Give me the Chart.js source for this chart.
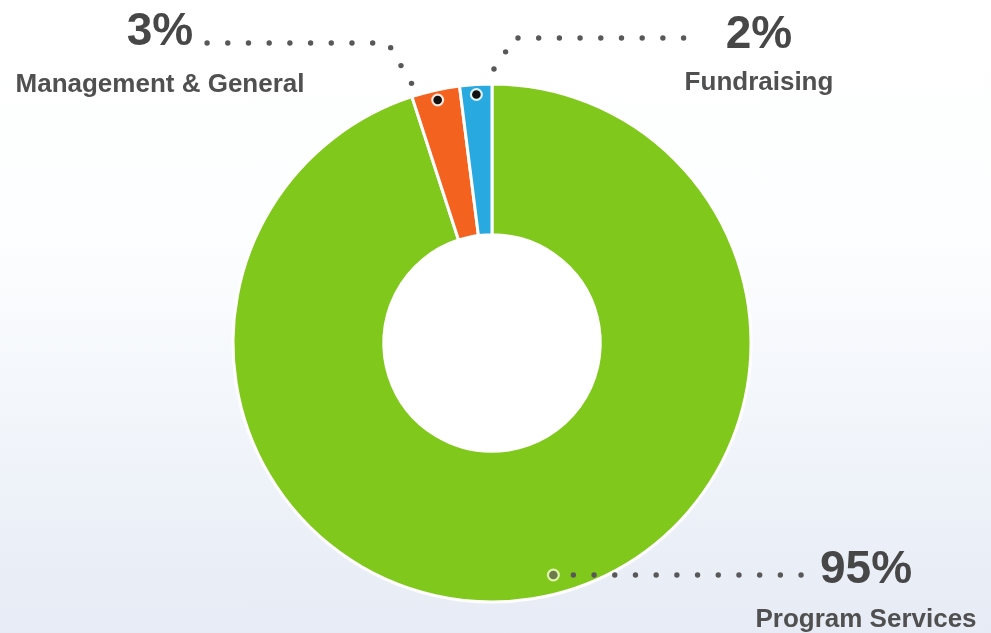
<!DOCTYPE html>
<html>
<head>
<meta charset="utf-8">
<script src="https://cdn.jsdelivr.net/npm/chart.js@4/dist/chart.umd.min.js"></script>
<style>
  html, body { margin: 0; padding: 0; }
  body {
    width: 991px; height: 633px; overflow: hidden;
    background: linear-gradient(to bottom, #ffffff 0px, #fdfeff 230px, #f0f4fa 450px, #e6ebf5 633px);
  }
  #wrap { position: relative; width: 991px; height: 633px; }
</style>
</head>
<body>
<div id="wrap"><canvas id="chart" width="991" height="633"></canvas></div>
<script>
// Expense breakdown, in percent of total spending
const categories = ['Program Services', 'Management & General', 'Fundraising'];
const shares = [95, 3, 2];
const sliceColors = ['#80C91C', '#F4621F', '#28A9DF'];

// Callout placement for each slice, relative to the doughnut centre.
// anchorFrac: where along the slice the marker sits (0..1 of its sweep)
// inset: how far in from the outer rim the marker sits
// path: bend points of the dotted leader, ending beside the text
// text: centre x and baselines of the value and the caption
const callouts = [
  { anchorFrac: 0.483, inset: 19, gap: 20, path: [[310, 232]],
    text: { x: 374, valueY: 240, labelY: 284 }, markerFill: 'rgba(70,80,40,0.75)', ringColor: 'rgba(235,250,190,0.9)' },
  { anchorFrac: 0.5, inset: 10, gap: 31, path: [[-81, -260], [-104, -300], [-285, -300]],
    text: { x: -332, valueY: -298, labelY: -251 }, markerFill: '#111111', ringColor: 'rgba(255,255,255,0.85)' },
  { anchorFrac: 0.5, inset: 10, gap: 31, path: [[13, -290], [21, -305], [208, -305]],
    text: { x: 267, valueY: -295, labelY: -253 }, markerFill: '#111111', ringColor: 'rgba(255,255,255,0.85)' }
];

// white disc behind the doughnut hole
const holePlugin = {
  id: 'hole',
  beforeDatasetsDraw(chart) {
    const arc = chart.getDatasetMeta(0).data[0];
    if (!arc) return;
    const p = arc.getProps(['x', 'y', 'innerRadius'], true);
    const ctx = chart.ctx;
    ctx.save();
    ctx.beginPath();
    ctx.arc(p.x, p.y, p.innerRadius + 1, 0, Math.PI * 2);
    ctx.fillStyle = '#ffffff';
    ctx.fill();
    ctx.restore();
  }
};

const calloutPlugin = {
  id: 'callouts',
  afterDatasetsDraw(chart) {
    const ctx = chart.ctx;
    const meta = chart.getDatasetMeta(0);
    meta.data.forEach((arc, i) => {
      const c = callouts[i];
      const p = arc.getProps(['x', 'y', 'startAngle', 'endAngle', 'outerRadius'], true);
      const ang = p.startAngle + (p.endAngle - p.startAngle) * c.anchorFrac;
      const r = p.outerRadius - c.inset;
      const ax = p.x + Math.cos(ang) * r;
      const ay = p.y + Math.sin(ang) * r;

      // dotted leader from the marker out to the value text
      const pts = [[ax, ay]].concat(c.path.map(q => [p.x + q[0], p.y + q[1]]));
      const step = 20.7;
      let next = c.gap;
      let travelled = 0;
      ctx.save();
      ctx.fillStyle = '#585858';
      for (let s = 0; s < pts.length - 1; s++) {
        const [x0, y0] = pts[s], [x1, y1] = pts[s + 1];
        const len = Math.hypot(x1 - x0, y1 - y0);
        while (next <= travelled + len + 0.5) {
          const t = (next - travelled) / len;
          ctx.beginPath();
          ctx.arc(x0 + (x1 - x0) * t, y0 + (y1 - y0) * t, 2.7, 0, Math.PI * 2);
          ctx.fill();
          next += step;
        }
        travelled += len;
      }

      // marker on the slice
      ctx.beginPath();
      ctx.arc(ax, ay, 6.5, 0, Math.PI * 2);
      ctx.fillStyle = c.ringColor;
      ctx.fill();
      ctx.beginPath();
      ctx.arc(ax, ay, 4.3, 0, Math.PI * 2);
      ctx.fillStyle = c.markerFill;
      ctx.fill();

      // value and caption
      ctx.textAlign = 'center';
      ctx.textBaseline = 'alphabetic';
      ctx.fillStyle = '#474747';
      ctx.font = 'bold 46px "Liberation Sans", Arial, sans-serif';
      ctx.fillText(shares[i] + '%', p.x + c.text.x, p.y + c.text.valueY);
      ctx.fillStyle = '#505050';
      ctx.font = 'bold 26px "Liberation Sans", Arial, sans-serif';
      ctx.fillText(categories[i], p.x + c.text.x, p.y + c.text.labelY);
      ctx.restore();
    });
  }
};

new Chart(document.getElementById('chart'), {
  type: 'doughnut',
  data: {
    labels: categories,
    datasets: [{
      data: shares,
      backgroundColor: sliceColors,
      borderColor: '#ffffff',
      borderWidth: 3,
      hoverOffset: 0
    }]
  },
  options: {
    responsive: false,
    animation: false,
    radius: 259,
    cutout: '41.8%',
    layout: { padding: { left: 0, right: 7, top: 53, bottom: 0 } },
    plugins: {
      legend: { display: false },
      tooltip: { enabled: false }
    }
  },
  plugins: [holePlugin, calloutPlugin]
});
</script>
</body>
</html>
